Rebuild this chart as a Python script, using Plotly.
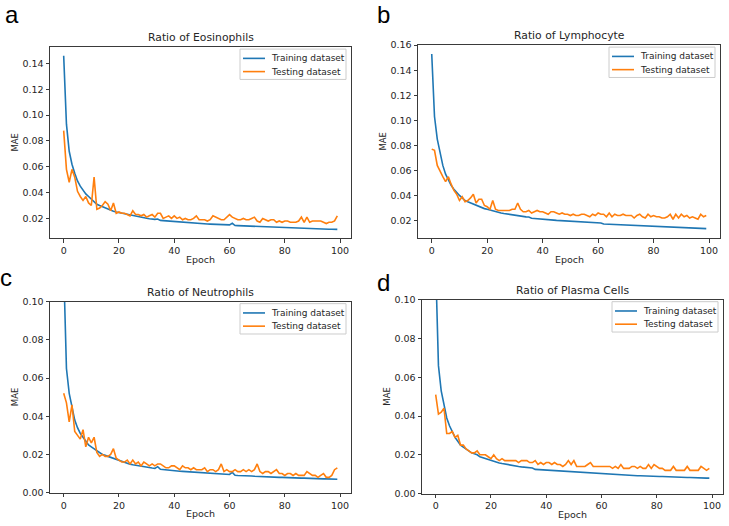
import plotly.graph_objects as go

epochs = list(range(100))

eos_train = [0.146,0.093,0.072,0.062,0.055,0.049,0.045,0.042,0.039,0.037,
0.035,0.033,0.031,0.030,0.029,0.028,0.027,0.026,0.0255,0.025,
0.0245,0.024,0.0235,0.023,0.0225,0.022,0.0215,0.021,0.0207,0.0204,
0.0201,0.0198,0.0195,0.0193,0.0195,0.0185,0.0183,0.0181,0.018,0.0179,
0.0178,0.0175,0.0172,0.017,0.0168,0.0168,0.0165,0.0165,0.0162,0.016,
0.0159,0.0158,0.0157,0.0156,0.0155,0.0154,0.0153,0.0152,0.0151,0.015,
0.015,0.0162,0.0145,0.0144,0.0143,0.0142,0.0141,0.014,0.0139,0.0138,
0.0138,0.0137,0.0136,0.0135,0.0134,0.0133,0.0132,0.0131,0.013,0.013,
0.0129,0.0128,0.0127,0.0126,0.0126,0.0125,0.0124,0.0123,0.0123,0.0122,
0.0121,0.012,0.012,0.0119,0.0118,0.0117,0.0116,0.0116,0.0116,0.0115]
eos_test = [0.088,0.058,0.048,0.058,0.052,0.041,0.037,0.034,0.037,0.032,
0.030,0.052,0.027,0.028,0.030,0.033,0.031,0.026,0.032,0.024,
0.025,0.024,0.024,0.023,0.022,0.026,0.023,0.023,0.022,0.023,
0.021,0.022,0.023,0.021,0.024,0.024,0.020,0.021,0.022,0.020,
0.022,0.020,0.021,0.019,0.020,0.019,0.019,0.020,0.022,0.019,
0.019,0.019,0.018,0.019,0.022,0.021,0.020,0.019,0.019,0.021,
0.023,0.021,0.020,0.019,0.019,0.020,0.019,0.019,0.020,0.021,
0.018,0.017,0.020,0.019,0.018,0.019,0.019,0.017,0.018,0.017,
0.018,0.018,0.017,0.017,0.017,0.018,0.021,0.017,0.021,0.017,
0.018,0.018,0.018,0.018,0.017,0.016,0.017,0.017,0.018,0.022]

lym_train = [0.153,0.103,0.085,0.073,0.064,0.057,0.052,0.048,0.045,0.042,
0.040,0.038,0.036,0.035,0.034,0.033,0.032,0.031,0.030,0.0295,
0.029,0.0283,0.0276,0.027,0.0265,0.026,0.0256,0.0252,0.0248,0.0244,
0.024,0.0237,0.0234,0.0231,0.0229,0.0228,0.0218,0.0216,0.0215,0.0213,
0.0211,0.0209,0.0207,0.0205,0.0203,0.0201,0.020,0.0198,0.0197,0.0195,
0.0194,0.0192,0.0191,0.019,0.0188,0.0187,0.0186,0.0184,0.0183,0.0182,
0.0181,0.018,0.0172,0.0171,0.017,0.0169,0.0168,0.0167,0.0166,0.0165,
0.0164,0.0163,0.0162,0.0161,0.016,0.0159,0.0158,0.0157,0.0156,0.0155,
0.0154,0.0153,0.0152,0.0151,0.015,0.0149,0.0148,0.0147,0.0146,0.0145,
0.0144,0.0143,0.0142,0.0141,0.014,0.0139,0.0138,0.0137,0.0136,0.0135]
lym_test = [0.077,0.076,0.064,0.059,0.055,0.051,0.055,0.049,0.044,0.041,
0.036,0.039,0.035,0.036,0.038,0.041,0.034,0.037,0.037,0.032,
0.031,0.029,0.036,0.029,0.028,0.028,0.028,0.028,0.028,0.029,
0.029,0.034,0.029,0.027,0.027,0.028,0.026,0.027,0.028,0.027,
0.027,0.026,0.025,0.027,0.027,0.026,0.025,0.026,0.025,0.025,
0.024,0.025,0.024,0.024,0.025,0.025,0.024,0.023,0.025,0.024,
0.026,0.025,0.025,0.023,0.026,0.023,0.025,0.024,0.024,0.025,
0.024,0.024,0.024,0.022,0.024,0.025,0.023,0.022,0.025,0.023,
0.024,0.023,0.023,0.022,0.022,0.023,0.025,0.021,0.025,0.022,
0.025,0.023,0.024,0.022,0.023,0.022,0.021,0.025,0.023,0.024]

neu_train = [0.118,0.065,0.052,0.044,0.038,0.034,0.031,0.029,0.027,0.025,
0.024,0.023,0.022,0.021,0.020,0.0195,0.019,0.0182,0.0176,0.0171,
0.0166,0.0161,0.0157,0.0153,0.0149,0.0146,0.0143,0.014,0.0137,0.0135,
0.0133,0.0131,0.0129,0.0127,0.0136,0.0122,0.012,0.0118,0.0117,0.0116,
0.0115,0.0113,0.0112,0.0111,0.011,0.0109,0.0108,0.0107,0.0106,0.0105,
0.0104,0.0103,0.0102,0.0101,0.010,0.0099,0.0098,0.0097,0.0096,0.0095,
0.0095,0.0106,0.0091,0.009,0.009,0.0089,0.0088,0.0087,0.0087,0.0086,
0.0085,0.0085,0.0084,0.0083,0.0083,0.0082,0.0082,0.0081,0.008,0.008,
0.0079,0.0079,0.0078,0.0078,0.0077,0.0077,0.0076,0.0076,0.0075,0.0075,
0.0074,0.0074,0.0073,0.0073,0.0072,0.0072,0.0071,0.0071,0.0071,0.007]
neu_test = [0.052,0.047,0.037,0.046,0.032,0.030,0.028,0.033,0.024,0.029,
0.026,0.029,0.021,0.019,0.020,0.019,0.019,0.020,0.023,0.018,
0.017,0.016,0.016,0.017,0.015,0.017,0.015,0.016,0.014,0.016,
0.015,0.014,0.015,0.014,0.015,0.015,0.014,0.013,0.013,0.014,
0.014,0.013,0.012,0.014,0.013,0.013,0.012,0.013,0.012,0.012,
0.012,0.013,0.011,0.012,0.012,0.011,0.012,0.015,0.011,0.012,
0.011,0.011,0.012,0.011,0.011,0.012,0.011,0.012,0.011,0.012,
0.015,0.011,0.010,0.011,0.011,0.010,0.011,0.012,0.010,0.010,
0.009,0.010,0.010,0.009,0.010,0.009,0.009,0.009,0.011,0.010,
0.009,0.009,0.008,0.009,0.010,0.008,0.008,0.009,0.012,0.013]

pla_train = [0.118,0.066,0.053,0.045,0.039,0.035,0.032,0.029,0.027,0.025,
0.024,0.023,0.022,0.021,0.0205,0.020,0.019,0.0185,0.018,0.0175,
0.017,0.0166,0.0162,0.0158,0.0155,0.0152,0.0149,0.0146,0.0144,0.0142,
0.014,0.0138,0.0136,0.0135,0.0133,0.0132,0.0125,0.0124,0.0123,0.0122,
0.0121,0.012,0.0119,0.0118,0.0117,0.0116,0.0115,0.0114,0.0113,0.0112,
0.0111,0.011,0.0109,0.0108,0.0107,0.0106,0.0105,0.0104,0.0103,0.0102,
0.0101,0.010,0.0099,0.0099,0.0098,0.0097,0.0097,0.0096,0.0095,0.0095,
0.0094,0.0093,0.0093,0.0092,0.0092,0.0091,0.0091,0.009,0.009,0.0089,
0.0089,0.0088,0.0088,0.0087,0.0087,0.0086,0.0086,0.0085,0.0085,0.0084,
0.0084,0.0083,0.0083,0.0082,0.0082,0.0081,0.0081,0.008,0.008,0.008]
pla_test = [0.051,0.041,0.042,0.044,0.031,0.031,0.032,0.029,0.030,0.025,
0.025,0.023,0.022,0.021,0.021,0.022,0.020,0.020,0.020,0.019,
0.018,0.020,0.018,0.017,0.018,0.017,0.017,0.017,0.017,0.017,
0.016,0.017,0.017,0.017,0.016,0.016,0.017,0.015,0.016,0.015,
0.016,0.016,0.015,0.016,0.015,0.015,0.014,0.015,0.017,0.015,
0.017,0.014,0.014,0.014,0.014,0.015,0.016,0.014,0.014,0.014,
0.014,0.014,0.014,0.014,0.013,0.014,0.013,0.015,0.013,0.013,
0.013,0.014,0.014,0.013,0.014,0.013,0.013,0.015,0.013,0.015,
0.014,0.013,0.013,0.012,0.012,0.012,0.014,0.012,0.012,0.012,
0.012,0.014,0.012,0.012,0.012,0.012,0.014,0.013,0.012,0.013]

titles = ["Ratio of Eosinophils", "Ratio of Lymphocyte",
          "Ratio of Neutrophils", "Ratio of Plasma Cells"]
letters = ["a", "b", "c", "d"]
legend_labels = ["Training dataset", "Testing dataset"]
train_series = [eos_train, lym_train, neu_train, pla_train]
test_series = [eos_test, lym_test, neu_test, pla_test]
y_ranges = [[0.0048, 0.1527], [0.006, 0.160], [0.0, 0.10], [0.0, 0.10]]
y_ticks = [[0.02, 0.04, 0.06, 0.08, 0.10, 0.12, 0.14],
           [0.02, 0.04, 0.06, 0.08, 0.10, 0.12, 0.14, 0.16],
           [0.00, 0.02, 0.04, 0.06, 0.08, 0.10],
           [0.00, 0.02, 0.04, 0.06, 0.08, 0.10]]
x_ticks = [0, 20, 40, 60, 80, 100]

W, H = 729, 526
# pixel boxes of each panel: left, right, top, bottom
boxes = [(50, 351, 42, 237), (418, 720, 40, 237),
         (50, 351, 302, 497), (422, 723, 300, 498)]
# anchor of the panel letters
letter_pos = [(12, 9), (383, 9), (6, 277), (383, 282)]

BLUE = "#1f77b4"
ORANGE = "#ff7f0e"
FONT = "DejaVu Sans"
TXT = "#262626"
FRAME = "#3a3a3a"

def px(x):
    return x / W

def py(y):
    return 1 - y / H

fig = go.Figure()
annotations = []
shapes = []
layout = dict(width=W, height=H, margin=dict(l=0, r=0, t=0, b=0),
              paper_bgcolor="white", plot_bgcolor="white", showlegend=False,
              font=dict(family=FONT, size=9, color=TXT))

for i in range(4):
    n = "" if i == 0 else str(i + 1)
    fig.add_trace(go.Scatter(x=epochs, y=train_series[i], mode="lines",
                             name=legend_labels[0], line=dict(color=BLUE, width=1.6),
                             xaxis="x" + n, yaxis="y" + n))
    fig.add_trace(go.Scatter(x=epochs, y=test_series[i], mode="lines",
                             name=legend_labels[1], line=dict(color=ORANGE, width=1.6),
                             xaxis="x" + n, yaxis="y" + n))
    l, r, t, b = boxes[i]
    axstyle = dict(showline=True, mirror=True, linecolor=FRAME, linewidth=1,
                   ticks="outside", ticklen=3.5, tickwidth=0.8, tickcolor=FRAME,
                   showgrid=False, zeroline=False,
                   tickfont=dict(family=FONT, size=9.5, color=TXT))
    layout["xaxis" + n] = dict(axstyle, domain=[px(l), px(r)], range=[-4.95, 103.95],
                               tickvals=x_ticks, anchor="y" + n)
    layout["yaxis" + n] = dict(axstyle, domain=[py(b), py(t)], range=y_ranges[i],
                               tickvals=y_ticks[i], tickformat=".2f", anchor="x" + n)
    # title
    annotations.append(dict(text=titles[i], x=px((l + r) / 2), y=py(t - 9.5),
                            xref="paper", yref="paper", xanchor="center",
                            yanchor="middle", showarrow=False,
                            font=dict(family=FONT, size=10.8, color=TXT)))
    # axis titles
    annotations.append(dict(text="Epoch", x=px((l + r) / 2), y=py(b + 21.5),
                            xref="paper", yref="paper", xanchor="center",
                            yanchor="middle", showarrow=False,
                            font=dict(family=FONT, size=9.5, color=TXT)))
    annotations.append(dict(text="MAE", x=px(l - 35), y=py((t + b) / 2),
                            xref="paper", yref="paper", xanchor="center",
                            yanchor="middle", showarrow=False, textangle=-90,
                            font=dict(family=FONT, size=8.5, color=TXT)))
    # panel letter
    lx, ly = letter_pos[i]
    annotations.append(dict(text=letters[i], x=px(lx), y=py(ly),
                            xref="paper", yref="paper", xanchor="center",
                            yanchor="middle", showarrow=False,
                            font=dict(family="Liberation Sans", size=24, color="black")))
    # legend box
    bx1 = r - 5
    bx0 = bx1 - 106
    by0 = t + 2
    by1 = by0 + 31
    shapes.append(dict(type="rect", xref="paper", yref="paper",
                       x0=px(bx0), x1=px(bx1), y0=py(by1), y1=py(by0),
                       line=dict(color="#cccccc", width=1), fillcolor="rgba(255,255,255,0.85)"))
    for k, col in enumerate([BLUE, ORANGE]):
        yy = by0 + 9.5 + k * 13.5
        shapes.append(dict(type="line", xref="paper", yref="paper",
                           x0=px(bx0 + 3), x1=px(bx0 + 25), y0=py(yy), y1=py(yy),
                           line=dict(color=col, width=1.6)))
        annotations.append(dict(text=legend_labels[k], x=px(bx0 + 29), y=py(yy),
                                xref="paper", yref="paper", xanchor="left",
                                yanchor="middle", showarrow=False,
                                font=dict(family=FONT, size=9, color=TXT)))

layout["annotations"] = annotations
layout["shapes"] = shapes
fig.update_layout(**layout)
fig.write_html("out.html", config={"displayModeBar": False},
               post_script="document.body.style.margin='0px';"
                           "document.body.style.overflow='hidden';")
